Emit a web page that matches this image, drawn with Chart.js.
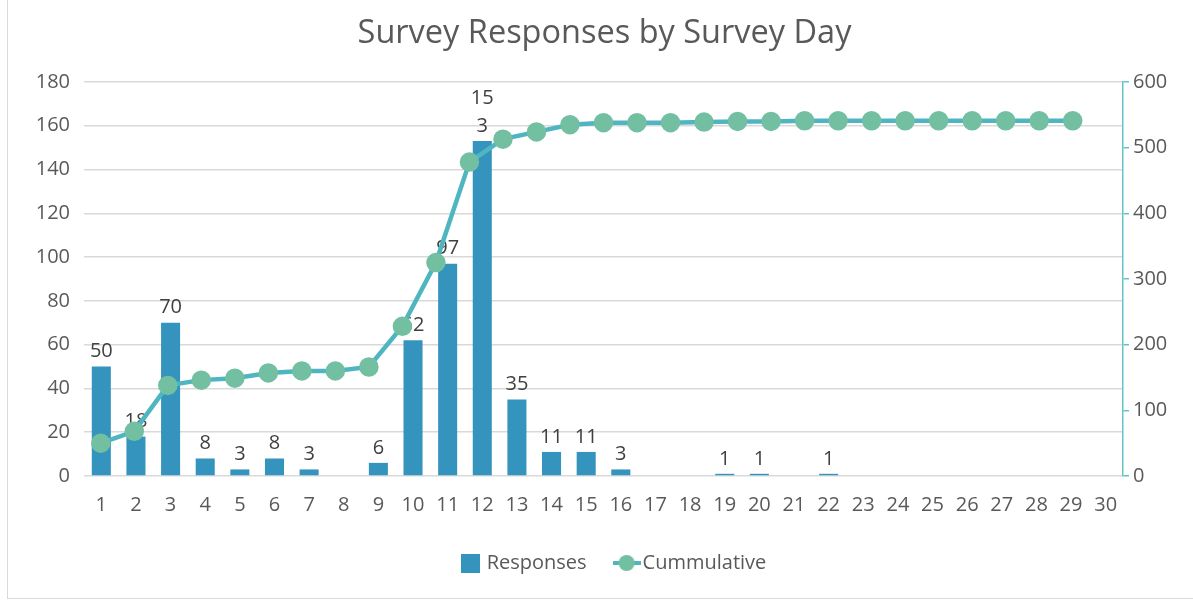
<!DOCTYPE html>
<html>
<head>
<meta charset="utf-8">
<script src="https://cdn.jsdelivr.net/npm/chart.js@4"></script>
<style>
  html, body { margin: 0; padding: 0; background: #fff; }
  #wrap { position: relative; width: 1193px; height: 600px; }
  #frame { position: absolute; left: 7px; top: -1px; width: 1190px; height: 600px; border: 1px solid #d9d9d9; box-sizing: border-box; }
  canvas { position: absolute; left: 0; top: 0; }
</style>
</head>
<body>
<div id="wrap">
  <div id="frame"></div>
  <canvas id="chart" width="1193" height="600"></canvas>
</div>
<script>
// Survey days on the x axis
const days = ['1', '2', '3', '4', '5', '6', '7', '8', '9', '10', '11', '12', '13', '14', '15',
    '16', '17', '18', '19', '20', '21', '22', '23', '24', '25', '26', '27', '28', '29', '30']

// The line sits on a hidden second category axis with one extra blank slot
const lineSlots = days.concat([''])

// Responses per day (bars, left axis)
const responses = [50, 18, 70, 8, 3, 8, 3, 0, 6, 62, 97, 153, 35, 11, 11,
    3, 0, 0, 1, 1, 0, 1, 0, 0, 0, 0, 0, 0, 0, 0]

// Running total (line, right axis)
const cumulative = [50, 68, 138, 146, 149, 157, 160, 160, 166, 228, 325, 478, 513, 524, 535,
    538, 538, 538, 539, 540, 540, 541, 541, 541, 541, 541, 541, 541, 541, 541, null]

const leftTicks = [0, 20, 40, 60, 80, 100, 120, 140, 160, 180]
const rightTicks = [0, 100, 200, 300, 400, 500, 600]

const barColor = '#3594bd'
const lineColor = '#4fb6c1'
const markerColor = '#73bfa1'
const textColor = '#595959'
const fontFamily = '"Open Sans", "Noto Sans", sans-serif'

// legend markers
function squareMarker() {
    const c = document.createElement('canvas')
    c.width = 19; c.height = 19
    const ctx = c.getContext('2d')
    ctx.fillStyle = barColor
    ctx.fillRect(0, 0, 19, 19)
    return c
}
function lineMarker() {
    const c = document.createElement('canvas')
    c.width = 28; c.height = 18
    const ctx = c.getContext('2d')
    ctx.strokeStyle = lineColor
    ctx.lineWidth = 4
    ctx.beginPath(); ctx.moveTo(0, 9); ctx.lineTo(28, 9); ctx.stroke()
    ctx.fillStyle = markerColor
    ctx.beginPath(); ctx.arc(14, 9, 8, 0, Math.PI * 2); ctx.fill()
    return c
}

// value labels above bars, drawn before the line so the line sits on top
const barLabels = {
    id: 'barLabels',
    afterDatasetDraw(chart, args) {
        if (args.index !== 0) return
        const ctx = chart.ctx
        ctx.save()
        ctx.fillStyle = '#404040'
        ctx.font = '20px ' + fontFamily
        ctx.textAlign = 'center'
        ctx.textBaseline = 'middle'
        args.meta.data.forEach((bar, i) => {
            const v = responses[i]
            if (!v) return
            const s = String(v)
            // Excel wrapped the three digit label
            const lines = s.length > 2 ? [s.slice(0, 2), s.slice(2)] : [s]
            lines.reverse().forEach((t, k) => {
                ctx.fillText(t, bar.x, bar.y - 15 - k * 28)
            })
        })
        ctx.restore()
    }
}

// the original frame starts a few px in, so title and legend sit a bit right of centre
const nudgeBlocks = {
    id: 'nudgeBlocks',
    afterLayout(chart) {
        chart.titleBlock.left += 8
        chart.titleBlock.right += 8
        chart.legend.left += 19
        chart.legend.right += 19
    }
}

new Chart(document.getElementById('chart'), {
    data: {
        labels: days,
        datasets: [
            {
                type: 'bar',
                label: 'Responses',
                data: responses,
                backgroundColor: barColor,
                xAxisID: 'x',
                yAxisID: 'y',
                grouped: false,
                barPercentage: 0.55,
                categoryPercentage: 1,
                order: 2
            },
            {
                type: 'line',
                label: 'Cummulative',
                data: cumulative,
                borderColor: lineColor,
                borderWidth: 4.5,
                pointBackgroundColor: markerColor,
                pointBorderColor: markerColor,
                pointRadius: 7.5,
                pointHoverRadius: 7.5,
                xAxisID: 'x2',
                yAxisID: 'y2',
                tension: 0,
                order: 1
            }
        ]
    },
    options: {
        responsive: false,
        animation: false,
        layout: { padding: { left: 0, right: 0, top: 0, bottom: 17 } },
        plugins: {
            title: {
                display: true,
                text: 'Survey Responses by Survey Day',
                color: textColor,
                font: { family: fontFamily, size: 32.5, weight: 'normal' },
                padding: { top: 14, bottom: 29 }
            },
            legend: {
                position: 'bottom',
                labels: {
                    color: textColor,
                    font: { family: fontFamily, size: 20 },
                    usePointStyle: true,
                    pointStyleWidth: 12,
                    padding: 34,
                    generateLabels() {
                        return [
                            { text: 'Responses', pointStyle: squareMarker(), fillStyle: barColor, strokeStyle: barColor, lineWidth: 0, datasetIndex: 0, fontColor: textColor },
                            { text: 'Cummulative', pointStyle: lineMarker(), fillStyle: markerColor, strokeStyle: lineColor, lineWidth: 0, datasetIndex: 1, fontColor: textColor }
                        ]
                    }
                }
            },
            tooltip: { enabled: false }
        },
        scales: {
            x: {
                grid: { display: false },
                border: { display: false },
                afterFit(axis) { axis.height -= 7 },
                ticks: {
                    color: textColor,
                    font: { family: fontFamily, size: 20 },
                    maxRotation: 0,
                    autoSkip: false,
                    padding: 9
                }
            },
            x2: {
                type: 'category',
                labels: lineSlots,
                display: false,
                offset: true
            },
            y: {
                position: 'left',
                min: 0,
                max: 180,
                afterBuildTicks(axis) { axis.ticks = leftTicks.map(v => ({ value: v })) },
                afterFit(axis) { axis.width = 84 },
                grid: { color: '#d9d9d9', lineWidth: 1.5, drawTicks: false },
                border: { display: false },
                ticks: {
                    color: textColor,
                    font: { family: fontFamily, size: 20 },
                    padding: 14
                }
            },
            y2: {
                position: 'right',
                min: 0,
                max: 600,
                afterBuildTicks(axis) { axis.ticks = rightTicks.map(v => ({ value: v })) },
                afterFit(axis) { axis.width = 70 },
                grid: { drawOnChartArea: false, color: '#63c3c9', tickLength: 6, lineWidth: 1.5 },
                border: { display: true, color: '#63c3c9', width: 1.5 },
                ticks: {
                    color: textColor,
                    font: { family: fontFamily, size: 20 },
                    padding: 4
                }
            }
        }
    },
    plugins: [barLabels, nudgeBlocks]
})
</script>
</body>
</html>
